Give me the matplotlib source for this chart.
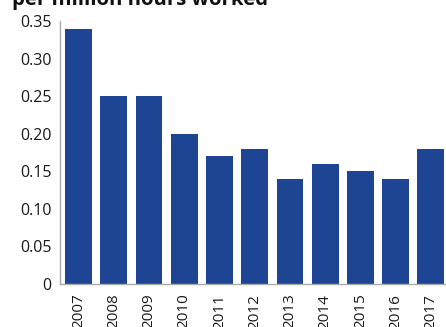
import matplotlib.pyplot as plt

# lost time injury rate by year
years = ['2007', '2008', '2009', '2010', '2011', '2012',
         '2013', '2014', '2015', '2016', '2017']
rates = [0.34, 0.25, 0.25, 0.20, 0.17, 0.18, 0.14, 0.16, 0.15, 0.14, 0.18]
y_ticks = [0, 0.05, 0.10, 0.15, 0.20, 0.25, 0.30, 0.35]
y_tick_labels = ['0', '0.05', '0.10', '0.15', '0.20', '0.25', '0.30', '0.35']

plt.rcParams['font.family'] = ['Open Sans', 'DejaVu Sans']

fig = plt.figure(figsize=(4.46, 3.27), dpi=100)
ax = fig.add_axes([60 / 446, 43 / 327, 1 - 60 / 446, 263 / 327])

ax.bar(range(len(years)), rates, width=0.76, color='#1e4594')

ax.set_xlim(-0.525, 10.43)
ax.set_ylim(0, 0.35)
ax.set_yticks(y_ticks)
ax.set_yticklabels(y_tick_labels, fontsize=11.5, color='#1a1a1a')
ax.set_xticks(range(len(years)))
ax.set_xticklabels(years, rotation=90, fontsize=11, color='#1a1a1a')
ax.tick_params(axis='both', length=0)
ax.tick_params(axis='y', pad=6)
ax.tick_params(axis='x', pad=7)

for side in ['top', 'right']:
    ax.spines[side].set_visible(False)
for side in ['left', 'bottom']:
    ax.spines[side].set_color('#aaaaaa')
    ax.spines[side].set_linewidth(1)

fig.text(12 / 446, 1 - 5 / 327, 'per million hours worked', fontsize=14.7,
         fontweight='bold', color='#111111', ha='left', va='baseline')

fig.savefig('out.png', dpi=100)
